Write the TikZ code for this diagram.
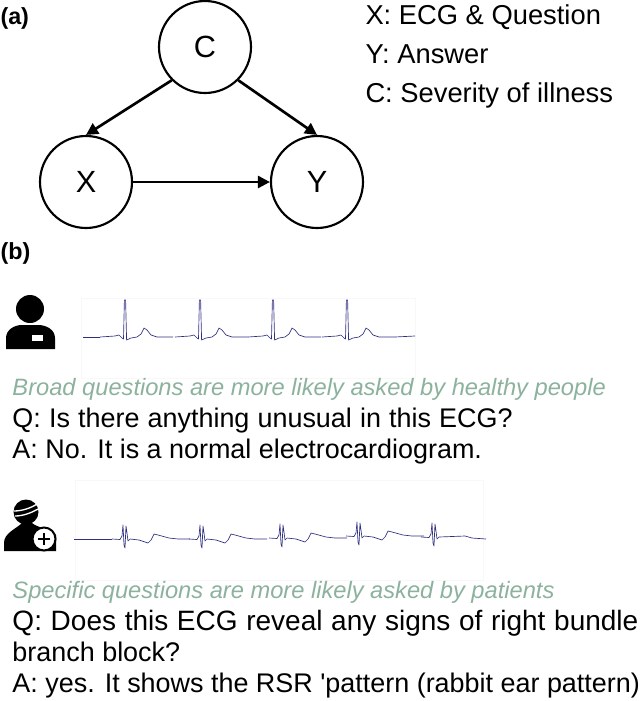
\documentclass[tikz,border=0pt]{standalone}
\usepackage{fontspec}
\setmainfont{Liberation Sans}
\usetikzlibrary{arrows.meta}

\tikzset{every picture/.style={line width=0.75pt}}
\definecolor{ecgblue}{RGB}{48,48,130}
\definecolor{hintgreen}{RGB}{140,178,158}
\definecolor{ghostgray}{RGB}{248,248,248}
\tikzset{
  varnode/.style={draw,circle,line width=1.6pt,minimum size=69pt,inner sep=0pt,font=\fontsize{23}{26}\selectfont},
  causal/.style={line width=2pt,-{Triangle[length=9pt,width=9pt]}},
  txt/.style={anchor=base west,inner sep=0pt,font=\fontsize{20.2}{24}\selectfont},
  legend/.style={txt,font=\fontsize{20.5}{24}\selectfont},
  hint/.style={txt,text=hintgreen,font=\fontsize{17.75}{22}\selectfont\itshape},
  panel/.style={anchor=base west,inner sep=0pt,font=\fontsize{17.5}{20}\selectfont\bfseries},
  ecg/.style={draw=ecgblue,line width=0.5pt,line join=round},
  normalbeat/.pic={
    \draw[ecg,yscale=-1] (-25,0) -- (-10,-1) -- (-6,-2) -- (-3,1) -- (-1.5,2) -- (-0.6,-37) -- (0.6,-37) -- (1.6,3) -- (6,1) -- (12,0) -- (16,-3) -- (19,-9) -- (22,-7) -- (26,-2) -- (32,0) -- (48,0);
  },
  blockbeat/.pic={
    \draw[ecg,yscale=-1] (-12,0) -- (-4,0.5) -- (-2,-3) -- (-1,-14) -- (0,6) -- (1,9) -- (2,-13) -- (3,-6) -- (4,2) -- (6,0);
  },
  blocktail/.pic={
    \draw[ecg,yscale=-1] (6,0) -- (15,1) -- (24,4) -- (27,1) -- (30,-5) -- (34,-4) -- (45,-1) -- (54,0) -- (66,0);
  }
}

\begin{document}
\begin{tikzpicture}[x=0.75pt,y=0.75pt,yscale=-1,xscale=1]
\useasboundingbox (0,0) rectangle (640,701);

% Panel (a)
\node (nodeC) [varnode] at (205,47) {C};
\node (nodeX) [varnode] at (86,182) {X};
\node (nodeY) [varnode] at (317,182) {Y};
\draw [causal] (nodeC.225) -- (nodeX.north);
\draw [causal] (nodeC.-45) -- (nodeY.north);
\draw [causal] (nodeX) -- (nodeY);

% Text Node
\draw (0,24) node (labelA) [panel] {(a)};
% Text Node
\draw (0,259) node (labelB) [panel] {(b)};
% Text Node
\draw (365,24) node (legendX) [legend] {X: ECG \& Question};
% Text Node
\draw (365,63) node (legendY) [legend] {Y: Answer};
% Text Node
\draw (365,102) node (legendC) [legend] {C: Severity of illness};

% Healthy person
\fill (30,309) circle (14);
\fill (6,349) -- (6,338) .. controls (6,330) and (14,325) .. (22,325) -- (38,325) .. controls (47,325) and (55,330) .. (55,338) -- (55,349) -- cycle;
\fill [white] (32,335) rectangle (43,341);

% Normal trace
\draw [ghostgray] (81,298) rectangle (415,378);
\draw [ecg] (83,337) -- (100,337);
\foreach \beatx in {125,200,273,347}
  \pic at (\beatx,337) {normalbeat};
\draw [ecg] (395,337) -- (415,336);

% Text Node
\draw (12,395) node (hintBroad) [hint] {Broad questions are more likely asked by healthy people};
% Text Node
\draw (12,427) node (askBroad) [txt] {\spaceskip=6.1pt Q: Is there anything unusual in this ECG?};
% Text Node
\draw (12,458) node (ansBroad) [txt] {A: No. It is a normal electrocardiogram.};

% Patient
\fill (26,512) circle (12.5);
\fill (4,551) -- (4,543) .. controls (4,533) and (16,529) .. (22,523) -- (32,523) .. controls (38,528) and (48,528) .. (56,535) -- (56,551) -- cycle;
\draw [white,line width=1pt] (14,511) .. controls (22,511) and (31,508) .. (37,504);
\draw [white,line width=1pt] (15,516) .. controls (23,516) and (31,513) .. (38,509);
\draw [fill=white,line width=1.5pt] (44,539) circle (11.5);
\draw [line width=1.6pt] (38,539) -- (50,539) (44,533) -- (44,545);

% Block trace
\draw [ghostgray] (75,480) rectangle (483,580);
\draw [ecg] (74,539) -- (112,539);
\foreach \beatx/\beaty in {124/539,201/539,281/538,358/536}{
  \pic at (\beatx,\beaty) {blockbeat};
  \pic at (\beatx,\beaty) {blocktail};
}
\pic at (433,537) {blockbeat};
\draw [ecg] (439,537) -- (465,536) -- (472,538) -- (486,539);

% Text Node
\draw (12,598) node (hintSpecific) [hint] {Specific questions are more likely asked by patients};
% Text Node
\draw (12,630) node (askSpecific) [txt,font=\fontsize{21}{24}\selectfont] {\spaceskip=6.5pt Q: Does this ECG reveal any signs of right bundle};
% Text Node
\draw (12,661) node (askSpecificB) [txt] {branch block?};
% Text Node
\draw (12,692) node (ansSpecific) [txt] {A: yes. It shows the RSR \textquotesingle pattern (rabbit ear pattern)};
\end{tikzpicture}
\end{document}
